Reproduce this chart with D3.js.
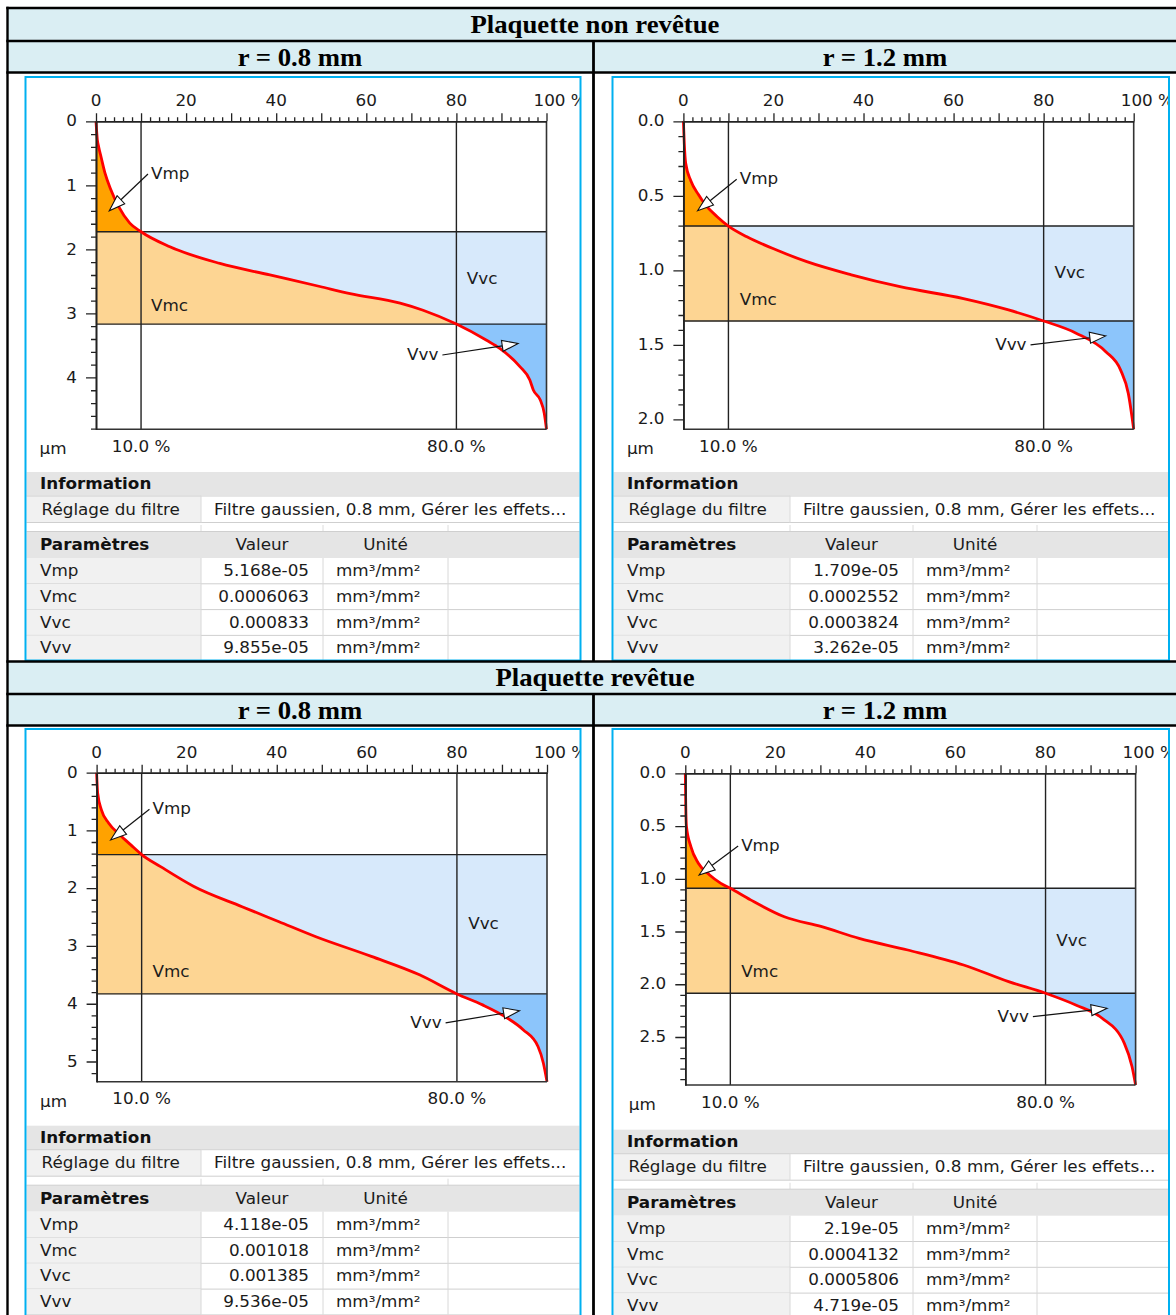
<!DOCTYPE html>
<html><head><meta charset="utf-8">
<script src="https://cdn.jsdelivr.net/npm/d3@7"></script>
<style>html,body{margin:0;padding:0;background:#fff;} svg{display:block}</style>
</head><body>
<svg id="c" width="1176" height="1315"></svg>
<script>
// ---------------- data ----------------
const sections = ["Plaquette non revêtue", "Plaquette revêtue"];
const radii = ["r = 0.8 mm", "r = 1.2 mm"];
const paramNames = ["Vmp", "Vmc", "Vvc", "Vvv"];
const unitLabel = "mm³/mm²";
const infoLabel = "Information";
const filterLabel = "Réglage du filtre";
const filterText = "Filtre gaussien, 0.8 mm, Gérer les effets...";
const paramHeader = ["Paramètres", "Valeur", "Unité"];
const xTickLabels = [0, 20, 40, 60, 80, 100];
const ratioMarks = [10, 80];            // material ratio split points (%)

// material ratio curves (percent, depth µm)
const tlPct   = [0, 0.3, 0.6, 1.1, 2.0, 3.3, 5.0, 7.5, 10, 16.4, 27.5, 38.6, 49.7, 56.4, 67.5, 72.6, 80, 86.7, 89.7, 94.1, 96.3, 97.1, 98.6, 99.5, 100];
const tlDepth = [0, 0.29, 0.40, 0.55, 0.81, 1.07, 1.33, 1.59, 1.725, 1.96, 2.22, 2.40, 2.58, 2.69, 2.84, 2.95, 3.167, 3.42, 3.55, 3.83, 4.04, 4.20, 4.35, 4.56, 4.81];
const trPct   = [0, 0.2, 0.5, 1.67, 3.3, 5.0, 7.5, 10, 14.1, 20.7, 27.4, 37.3, 48.1, 62.2, 72.2, 80, 87.1, 93.8, 97.1, 98.8, 100];
const trDepth = [0, 0.15, 0.28, 0.40, 0.49, 0.565, 0.64, 0.703, 0.775, 0.864, 0.942, 1.03, 1.11, 1.19, 1.266, 1.340, 1.42, 1.546, 1.67, 1.826, 2.067];
const blPct   = [0, 0.25, 1.07, 2.7, 5.2, 7.6, 10, 14.2, 21.6, 32.3, 40.5, 48.7, 61.0, 71.7, 80, 85.7, 90.6, 94.7, 98.0, 99.2, 100];
const blDepth = [0, 0.36, 0.645, 0.875, 1.078, 1.25, 1.418, 1.626, 1.97, 2.32, 2.58, 2.84, 3.18, 3.50, 3.83, 4.02, 4.22, 4.45, 4.74, 5.03, 5.35];
const brPct   = [0, 0.1, 0.25, 1.24, 2.9, 5.4, 7.9, 10, 14.5, 22.0, 30.3, 38.6, 49.4, 61.8, 71.8, 80, 86.7, 92.5, 97.5, 99.2, 100];
const brDepth = [0, 0.3, 0.5, 0.695, 0.853, 0.964, 1.043, 1.09, 1.20, 1.36, 1.454, 1.565, 1.675, 1.817, 1.975, 2.085, 2.196, 2.32, 2.56, 2.78, 2.955];

// depth levels at 10 % and 80 %
const tlLevels = [1.725, 3.167];
const trLevels = [0.703, 1.340];
const blLevels = [1.418, 3.83];
const brLevels = [1.09, 2.085];

// y tick steps [major, minor]
const tlYStep = [1, 0.2];
const trYStep = [0.5, 0.1];
const blYStep = [1, 0.2];
const brYStep = [0.5, 0.1];

// table values
const tlValues = ["5.168e-05", "0.0006063", "0.000833", "9.855e-05"];
const trValues = ["1.709e-05", "0.0002552", "0.0003824", "3.262e-05"];
const blValues = ["4.118e-05", "0.001018", "0.001385", "9.536e-05"];
const brValues = ["2.19e-05", "0.0004132", "0.0005806", "4.719e-05"];

// label anchor points (percent, depth) for Vmp, Vmc, Vvc, Vvv and arrow tips
const tlLabelPos = [[12.2, 0.823], [12.2, 2.886], [82.3, 2.464], [76.0, 3.65]];
const trLabelPos = [[12.5, 0.389], [12.5, 1.199], [82.4, 1.02], [76.2, 1.50]];
const blLabelPos = [[12.4, 0.633], [12.4, 3.453], [82.5, 2.618], [76.6, 4.33]];
const brLabelPos = [[12.4, 0.689], [12.4, 1.886], [82.4, 1.592], [76.3, 2.307]];
const tlTips = [[2.95, 1.397], [93.7, 3.47]];
const trTips = [[3.15, 0.60], [93.8, 1.44]];
const blTips = [[3.1, 1.164], [93.9, 4.12]];
const brTips = [[3.06, 0.964], [93.7, 2.228]];

// ---------------- style ----------------
const SX = 1.12;
const FONT = "'DejaVu Sans', Verdana, sans-serif";
const SERIF = "'Liberation Serif', 'Times New Roman', serif";
const COL = { vmp: "#ffa200", vmc: "#fdd593", vvc: "#d7e9fb", vvv: "#8cc5fb", curve: "#ff0000",
              head: "#daeef3", frame: "#00b0f0", band: "#e5e5e5", cell: "#f1f1f1", grid: "#cfcfcf" };

const svg = d3.select("#c");
svg.append("rect").attr("width", 1176).attr("height", 1315).attr("fill", "#fff");

function txt(g, x, y, s, o = {}) {
  return g.append("text")
    .attr("transform", `translate(${x},${y}) scale(${o.sx ?? SX},1)`)
    .attr("text-anchor", o.anchor || "start")
    .attr("dominant-baseline", o.base || "central")
    .attr("font-family", o.family || FONT)
    .attr("font-size", o.size || 15)
    .attr("font-weight", o.weight || "normal")
    .attr("fill", o.fill || "#1b1b1b")
    .text(s);
}

// ---------------- outer table ----------------
[[8, 41], [41, 72.5], [661.5, 694], [694, 725.5]].forEach(([a, b]) =>
  svg.append("rect").attr("x", 7.5).attr("y", a).attr("width", 1170).attr("height", b - a).attr("fill", COL.head));

const hdr = { family: SERIF, size: 25, weight: "bold", sx: 1.07, base: "alphabetic", anchor: "middle", fill: "#000" };
txt(svg, 595, 33, sections[0], hdr);
txt(svg, 300, 66, radii[0], hdr);
txt(svg, 885, 66, radii[1], hdr);
txt(svg, 595, 686, sections[1], hdr);
txt(svg, 300, 718.5, radii[0], hdr);
txt(svg, 885, 718.5, radii[1], hdr);

// ---------------- panels ----------------
const panels = [
  { key: "tl", pct: tlPct, depth: tlDepth, levels: tlLevels, ystep: tlYStep, values: tlValues, labels: tlLabelPos, tips: tlTips, fmt: d3.format("d"),
    frame: { x: 25.5, y: 77, x2: 580.5, y2: 660.5 }, plot: { x0: 96, x1: 546.5, y0: 121.3, y1: 429.3 },
    table: { x0: 26.5, x1: 579.5, d1: 201, d2: 323, d3: 448, ic: 484 } },
  { key: "tr", pct: trPct, depth: trDepth, levels: trLevels, ystep: trYStep, values: trValues, labels: trLabelPos, tips: trTips, fmt: d3.format(".1f"),
    frame: { x: 612.5, y: 77, x2: 1169, y2: 660.5 }, plot: { x0: 683.4, x1: 1133.7, y0: 121.3, y1: 429.3 },
    table: { x0: 613.5, x1: 1168, d1: 790, d2: 913, d3: 1037, ic: 484 } },
  { key: "bl", pct: blPct, depth: blDepth, levels: blLevels, ystep: blYStep, values: blValues, labels: blLabelPos, tips: blTips, fmt: d3.format("d"),
    frame: { x: 25.5, y: 729, x2: 580.5, y2: 1330 }, plot: { x0: 96.6, x1: 547, y0: 772.7, y1: 1081.7 },
    table: { x0: 26.5, x1: 579.5, d1: 201, d2: 323, d3: 448, ic: 1137.7 } },
  { key: "br", pct: brPct, depth: brDepth, levels: brLevels, ystep: brYStep, values: brValues, labels: brLabelPos, tips: brTips, fmt: d3.format(".1f"),
    frame: { x: 612.5, y: 729, x2: 1169, y2: 1330 }, plot: { x0: 685.3, x1: 1135.6, y0: 773.3, y1: 1085 },
    table: { x0: 613.5, x1: 1168, d1: 790, d2: 913, d3: 1037, ic: 1141.7 } }
];

function arrow(g, x1, y1, x2, y2) {
  const dx = x2 - x1, dy = y2 - y1, len = Math.hypot(dx, dy);
  const ux = dx / len, uy = dy / len, nx = -uy, ny = ux;
  const hl = 16, hw = 5.5;
  const bx = x2 - ux * hl, by = y2 - uy * hl;
  g.append("line").attr("x1", x1).attr("y1", y1).attr("x2", bx).attr("y2", by)
    .attr("stroke", "#111").attr("stroke-width", 1.2);
  g.append("polygon").attr("points", [[x2, y2], [bx + nx * hw, by + ny * hw], [bx - nx * hw, by - ny * hw]].map(p => p.join(",")).join(" "))
    .attr("fill", "#fff").attr("stroke", "#111").attr("stroke-width", 1.1).attr("stroke-linejoin", "miter");
}

function stepRange(max, step) {
  const n = Math.floor(max / step + 1e-9);
  return d3.range(0, n + 1).map(i => +(i * step).toFixed(6));
}

function drawTable(g, T, values) {
  const { x0, x1, d1, d2, d3, ic } = T;
  g.append("rect").attr("x", x0).attr("y", ic - 12).attr("width", x1 - x0).attr("height", 23.5).attr("fill", COL.band);
  txt(g, x0 + 13.5, ic, infoLabel, { weight: "bold", fill: "#111" });
  const ry = ic + 11.5, rh = 27;
  g.append("rect").attr("x", x0).attr("y", ry).attr("width", d1 - x0).attr("height", rh).attr("fill", COL.cell);
  g.append("rect").attr("x", d1).attr("y", ry).attr("width", x1 - d1).attr("height", rh).attr("fill", "#fff");
  [ry + 0.5, ry + rh].forEach(yy => g.append("line").attr("x1", x0).attr("x2", x1).attr("y1", yy).attr("y2", yy).attr("stroke", COL.grid));
  g.append("line").attr("x1", d1).attr("x2", d1).attr("y1", ry).attr("y2", ry + rh).attr("stroke", "#dadada");
  txt(g, x0 + 15, ic + 25.5, filterLabel);
  txt(g, d1 + 13, ic + 25.5, filterText);
  const hy = ic + 47.5, hh = 26.5;
  [d1, d2, d3].forEach(xx => g.append("line").attr("x1", xx).attr("x2", xx).attr("y1", ic + 41).attr("y2", hy).attr("stroke", "#dcdcdc"));
  g.append("rect").attr("x", x0).attr("y", hy).attr("width", x1 - x0).attr("height", hh).attr("fill", COL.band);
  g.append("line").attr("x1", x0).attr("x2", x1).attr("y1", hy).attr("y2", hy).attr("stroke", COL.grid);
  txt(g, x0 + 13.5, ic + 61, paramHeader[0], { weight: "bold", fill: "#111" });
  txt(g, (d1 + d2) / 2, ic + 61, paramHeader[1], { anchor: "middle" });
  txt(g, (d2 + d3) / 2, ic + 61, paramHeader[2], { anchor: "middle" });
  const rowH = 25.8, top0 = ic + 74;
  paramNames.forEach((name, i) => {
    const t = top0 + rowH * i;
    g.append("rect").attr("x", x0).attr("y", t).attr("width", d1 - x0).attr("height", rowH).attr("fill", COL.cell);
    g.append("line").attr("x1", x0).attr("x2", x1).attr("y1", t + rowH).attr("y2", t + rowH).attr("stroke", COL.grid);
    txt(g, x0 + 13.5, t + rowH / 2, name);
    txt(g, d2 - 14, t + rowH / 2, values[i], { anchor: "end" });
    txt(g, d2 + 13, t + rowH / 2, unitLabel);
  });
  [d1, d2, d3].forEach(xx => g.append("line").attr("x1", xx).attr("x2", xx).attr("y1", top0).attr("y2", top0 + rowH * 4)
    .attr("stroke", "#d8d8d8"));
}

panels.forEach(P => {
  const F = P.frame, L = P.plot;
  const cid = "clip-" + P.key;
  svg.append("clipPath").attr("id", cid).append("rect")
    .attr("x", F.x).attr("y", F.y).attr("width", F.x2 - F.x).attr("height", F.y2 - F.y);
  const g = svg.append("g").attr("clip-path", `url(#${cid})`);

  const dmax = d3.max(P.depth);
  const x = d3.scaleLinear().domain([0, 100]).range([L.x0, L.x1]);
  const y = d3.scaleLinear().domain([0, dmax]).range([L.y0, L.y1]);
  const pts = P.pct.map((p, i) => [p, P.depth[i]]);
  const [r1, r2] = ratioMarks;
  const seg1 = pts.filter(d => d[0] <= r1);
  const seg2 = pts.filter(d => d[0] >= r1 && d[0] <= r2);
  const seg3 = pts.filter(d => d[0] >= r2);
  const [c1, c2] = P.levels;

  const fillPath = (d, col) => g.append("path").attr("d", d).attr("fill", col).attr("stroke", col).attr("stroke-width", 0.6);
  const area = () => d3.area().x(d => x(d[0])).curve(d3.curveMonotoneX);
  const rectPath = (pa, pb, da, db) => `M${x(pa)},${y(da)}H${x(pb)}V${y(db)}H${x(pa)}Z`;

  fillPath(rectPath(0, r1, c1, c2), COL.vmc);
  fillPath(area().y0(d => y(d[1])).y1(y(c2))(seg2), COL.vmc);
  fillPath(area().y0(y(c1)).y1(d => y(d[1]))(seg2), COL.vvc);
  fillPath(rectPath(r2, 100, c1, c2), COL.vvc);
  fillPath(area().y0(d => y(d[1])).y1(y(c1))(seg1), COL.vmp);
  fillPath(area().y0(y(c2)).y1(d => y(d[1]))(seg3), COL.vvv);

  [c1, c2].forEach(c => g.append("line").attr("x1", x(0)).attr("x2", x(100)).attr("y1", y(c)).attr("y2", y(c))
    .attr("stroke", "#222").attr("stroke-width", 1.4));
  ratioMarks.forEach(r => g.append("line").attr("x1", x(r)).attr("x2", x(r)).attr("y1", y(0)).attr("y2", y(dmax))
    .attr("stroke", "#222").attr("stroke-width", 1.4));

  g.append("path").attr("d", d3.line().x(d => x(d[0])).y(d => y(d[1])).curve(d3.curveMonotoneX)(pts))
    .attr("fill", "none").attr("stroke", COL.curve).attr("stroke-width", 2.8).attr("stroke-linejoin", "round");

  g.append("line").attr("x1", x(100)).attr("x2", x(100)).attr("y1", y(0)).attr("y2", y(dmax)).attr("stroke", "#333").attr("stroke-width", 1.6);
  g.append("line").attr("x1", x(0)).attr("x2", x(100)).attr("y1", y(dmax)).attr("y2", y(dmax)).attr("stroke", "#333").attr("stroke-width", 1.6);

  const styleAxis = sel => { sel.select(".domain").attr("stroke", "#222").attr("stroke-width", 1.6); sel.selectAll(".tick line").attr("stroke", "#222").attr("stroke-width", 1.3); };
  const [ym, yn] = P.ystep;
  const yMaj = stepRange(dmax, ym);
  const yMin = stepRange(dmax, yn).filter(v => Math.abs(v / ym - Math.round(v / ym)) > 1e-6);
  g.append("g").attr("transform", `translate(${x(0)},0)`)
    .call(d3.axisLeft(y).tickValues(yMin).tickSize(5).tickSizeOuter(0).tickFormat("")).call(styleAxis);
  g.append("g").attr("transform", `translate(${x(0)},0)`)
    .call(d3.axisLeft(y).tickValues(yMaj).tickSize(10).tickSizeOuter(0).tickFormat("")).call(styleAxis);
  g.append("g").attr("transform", `translate(0,${y(0)})`)
    .call(d3.axisTop(x).tickValues(d3.range(0, 101, 2).filter(v => v % 10)).tickSize(4).tickSizeOuter(0).tickFormat("")).call(styleAxis);
  g.append("g").attr("transform", `translate(0,${y(0)})`)
    .call(d3.axisTop(x).tickValues(d3.range(0, 101, 10)).tickSize(8).tickSizeOuter(0).tickFormat("")).call(styleAxis);

  yMaj.forEach(v => txt(g, x(0) - 19, y(v), P.fmt(v), { anchor: "end" }));
  xTickLabels.forEach(v => {
    if (v === 100) txt(g, x(v) - 13, y(0) - 20, v + " %");
    else txt(g, x(v), y(0) - 20, String(v), { anchor: "middle" });
  });
  ratioMarks.forEach(r => txt(g, x(r), y(dmax) + 17.5, d3.format(".1f")(r) + " %", { anchor: "middle" }));
  txt(g, x(0) - 43, y(dmax) + 20, "µm", { anchor: "middle" });

  const lp = P.labels;
  txt(g, x(lp[0][0]), y(lp[0][1]), paramNames[0]);
  arrow(g, x(lp[0][0]) - 3, y(lp[0][1]), x(P.tips[0][0]), y(P.tips[0][1]));
  txt(g, x(lp[1][0]), y(lp[1][1]), paramNames[1]);
  txt(g, x(lp[2][0]), y(lp[2][1]), paramNames[2]);
  txt(g, x(lp[3][0]), y(lp[3][1]), paramNames[3], { anchor: "end" });
  arrow(g, x(lp[3][0]) + 4, y(lp[3][1]), x(P.tips[1][0]), y(P.tips[1][1]));

  drawTable(g, P.table, P.values);

  svg.append("rect").attr("x", F.x).attr("y", F.y).attr("width", F.x2 - F.x).attr("height", F.y2 - F.y)
    .attr("fill", "none").attr("stroke", COL.frame).attr("stroke-width", 2);
});

[8, 41, 72.5, 661.5, 694, 725.5].forEach(yy => svg.append("line").attr("x1", 6.3).attr("x2", 1176).attr("y1", yy).attr("y2", yy)
  .attr("stroke", "#000").attr("stroke-width", 2.4));
svg.append("line").attr("x1", 7.5).attr("x2", 7.5).attr("y1", 6.8).attr("y2", 1315).attr("stroke", "#000").attr("stroke-width", 2.4);
[[41, 661.5], [694, 1315]].forEach(([a, b]) => svg.append("line").attr("x1", 593.5).attr("x2", 593.5).attr("y1", a).attr("y2", b)
  .attr("stroke", "#000").attr("stroke-width", 2.8));
</script>
</body></html>
